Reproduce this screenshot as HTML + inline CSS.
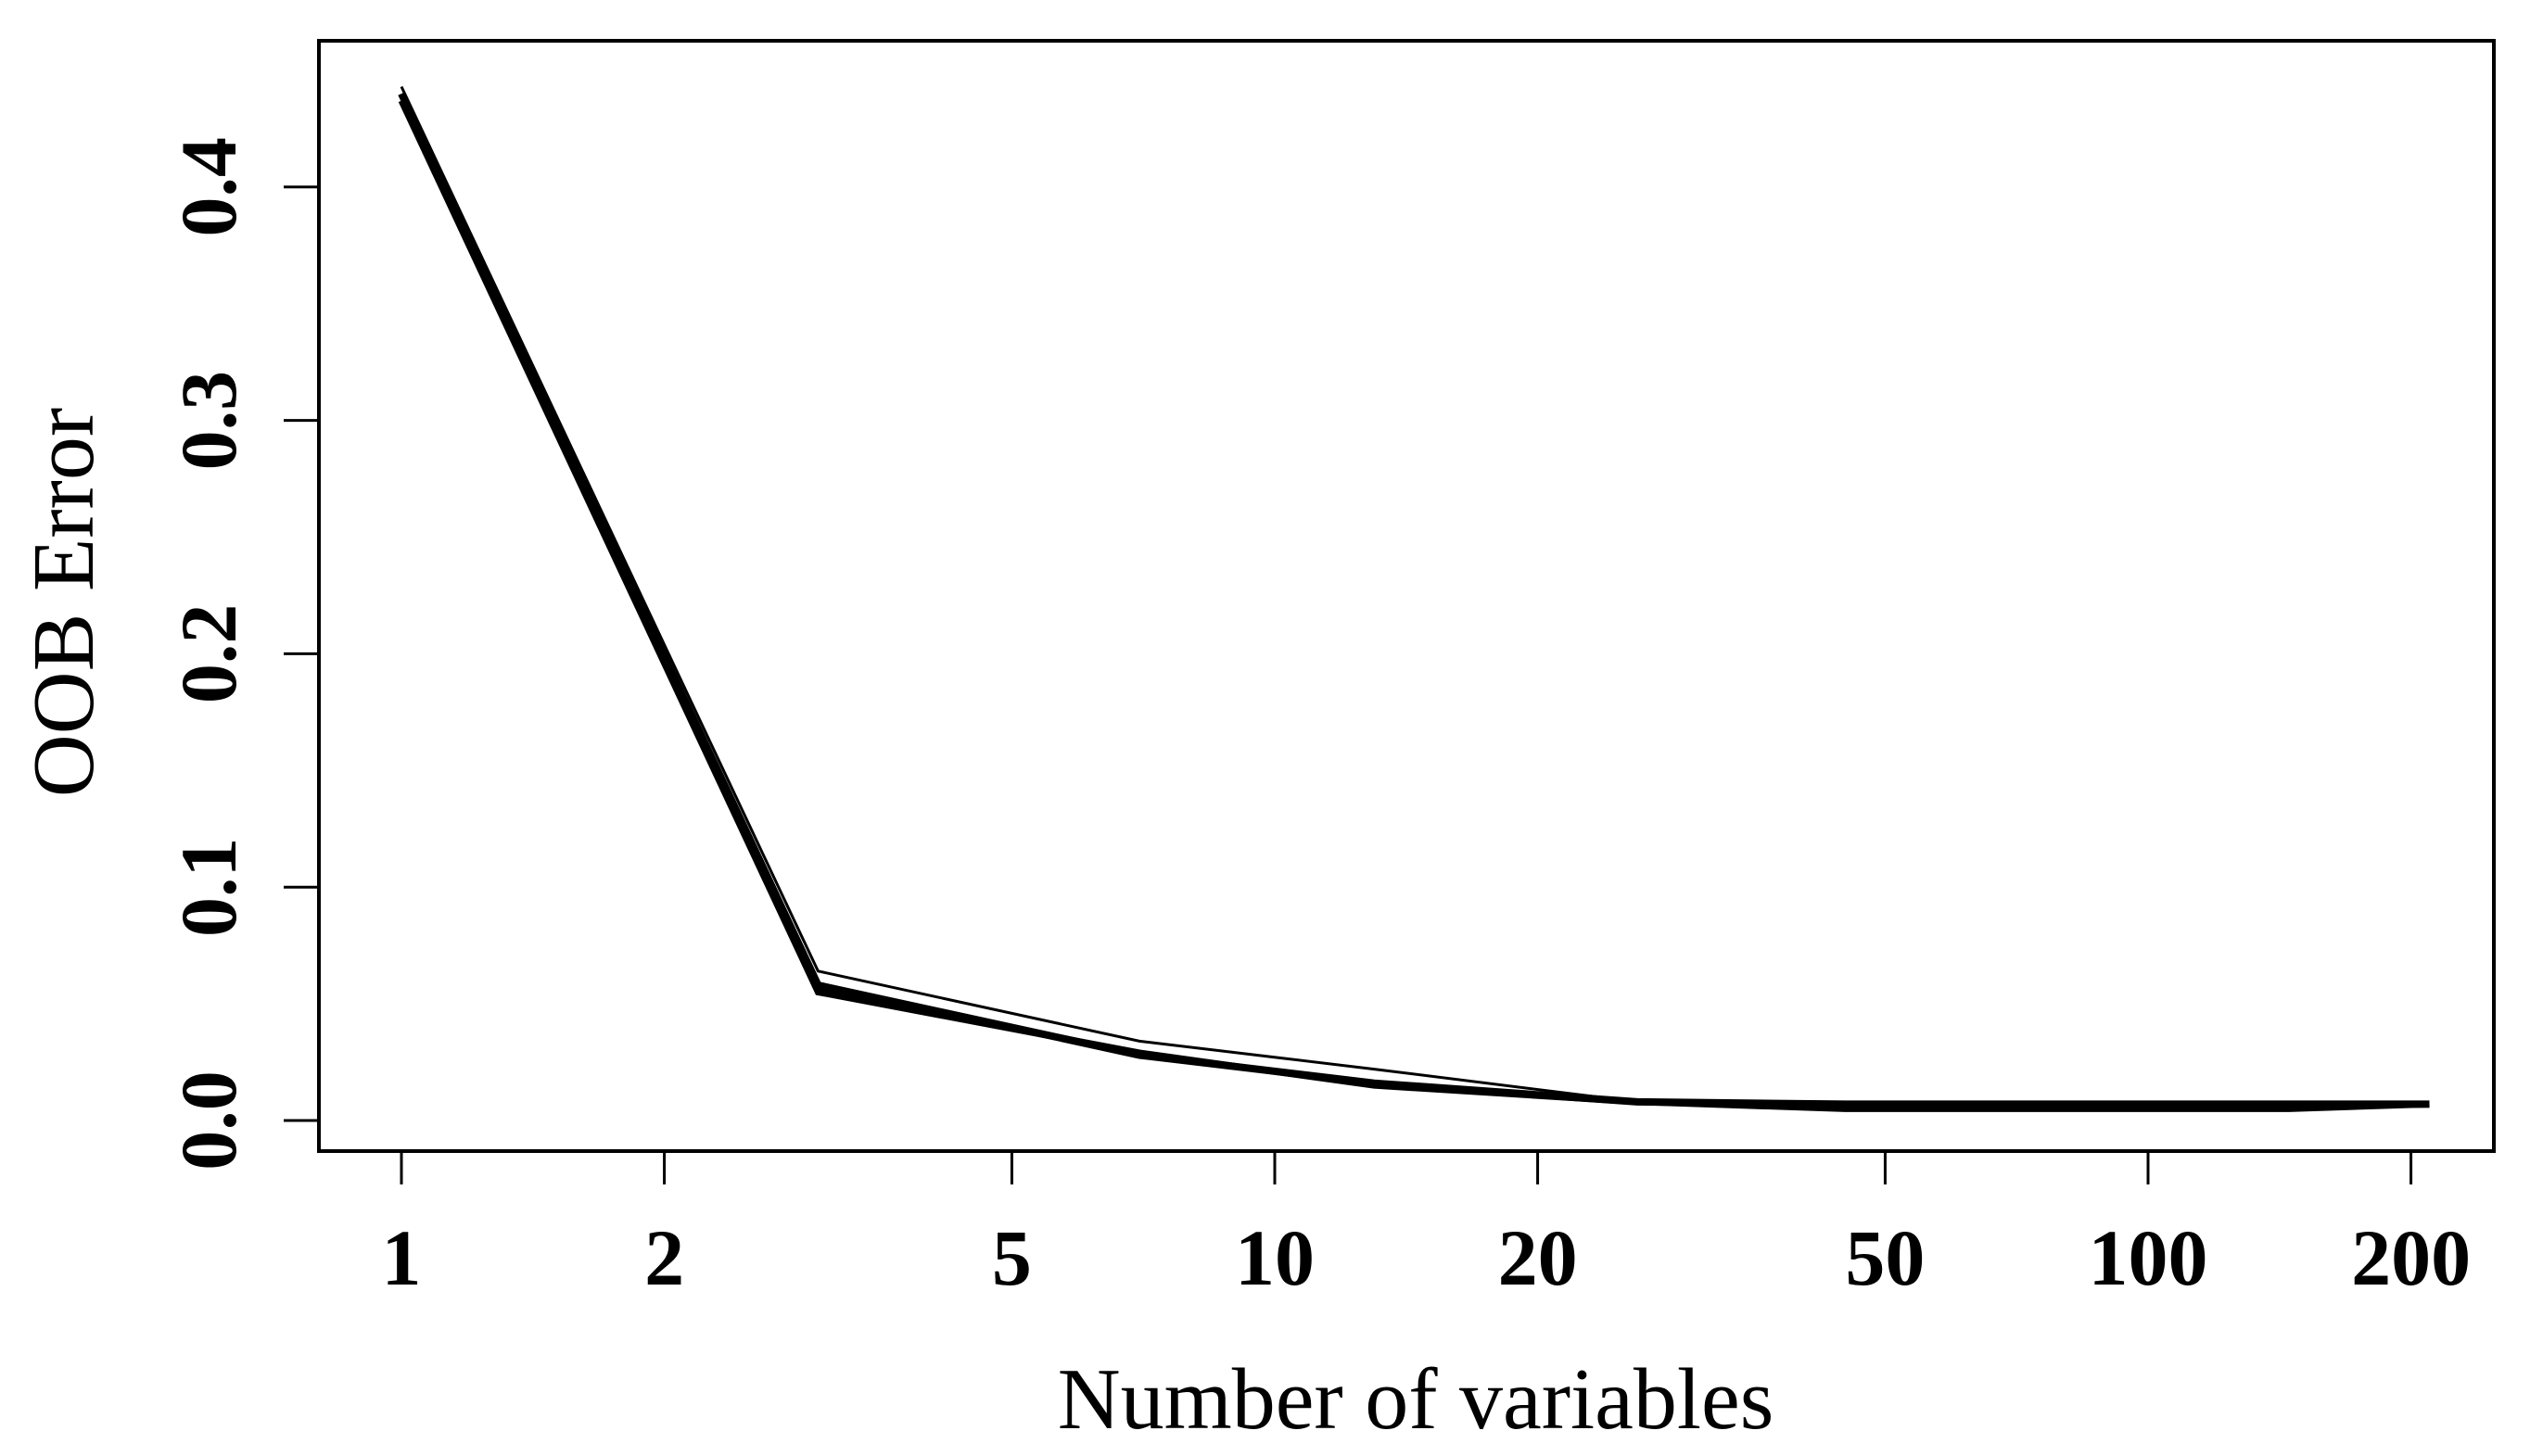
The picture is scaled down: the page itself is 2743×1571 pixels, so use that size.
<!DOCTYPE html>
<html><head><meta charset="utf-8"><style>
html,body{margin:0;padding:0;background:#fff;}
svg{display:block;}
text{font-family:"Liberation Serif",serif;fill:#000;}
</style></head><body>
<svg id="chart" width="2743" height="1571" viewBox="0 0 2743 1571" xmlns="http://www.w3.org/2000/svg">
<rect x="344" y="44" width="2346" height="1198" fill="none" stroke="#000" stroke-width="4"/>
<g id="xaxis"></g>
<g id="yaxis"></g>
<g id="series"></g>
<text x="1527" y="1541" font-size="94" text-anchor="middle">Number of variables</text>
<text transform="translate(100,650) rotate(-90)" font-size="94" text-anchor="middle">OOB Error</text>
</svg>
<script>
const xTicks = [1, 2, 5, 10, 20, 50, 100, 200];
const yTicks = [0.0, 0.1, 0.2, 0.3, 0.4];
const yTickLabels = ["0.0", "0.1", "0.2", "0.3", "0.4"];
const nVars = [1, 3, 7, 13, 26, 45, 145, 210];
const seriesA = [0.440, 0.058, 0.028, 0.016, 0.008, 0.007, 0.007, 0.007];
const seriesB = [0.443, 0.064, 0.034, 0.022, 0.008, 0.006, 0.006, 0.007];
const seriesC = [0.437, 0.055, 0.029, 0.015, 0.008, 0.005, 0.005, 0.007];

const NS = "http://www.w3.org/2000/svg";
function sx(v){ return 433 + Math.log10(v) * 942; }
function sy(v){ return 1209 - v * 2518; }
function mk(tag, attrs, parent){
  const el = document.createElementNS(NS, tag);
  for (const k in attrs) el.setAttribute(k, attrs[k]);
  parent.appendChild(el);
  return el;
}
const xa = document.getElementById('xaxis');
xTicks.forEach(t => {
  const l = mk('line', {x1:sx(t), x2:sx(t), y1:1242, y2:1278, stroke:'#000', 'stroke-width':3}, xa);
  
  
  const tx = mk('text', {x:sx(t), y:1386, 'font-size':86, 'font-weight':'bold', 'text-anchor':'middle'}, xa);
  tx.textContent = String(t);
  
  
});
const ya = document.getElementById('yaxis');
yTicks.forEach((t, i) => {
  const l = mk('line', {x1:306, x2:344, y1:sy(t), y2:sy(t), stroke:'#000', 'stroke-width':3}, ya);
  
  
  const tx = mk('text', {transform:'translate(254,' + sy(t) + ') rotate(-90)', 'font-size':86, 'font-weight':'bold', 'text-anchor':'middle'}, ya);
  tx.textContent = yTickLabels[i];
  
  
});
const sg = document.getElementById('series');
[[seriesB, 3], [seriesC, 7], [seriesA, 8]].forEach(([s, w]) => {
  const pts = nVars.map((v, i) => sx(v).toFixed(1) + ',' + sy(s[i]).toFixed(1)).join(' ');
  const p = mk('polyline', {points:pts, fill:'none', stroke:'#000', 'stroke-width':w, 'stroke-linejoin':'miter'}, sg);
  
  
});
</script>
</body></html>
